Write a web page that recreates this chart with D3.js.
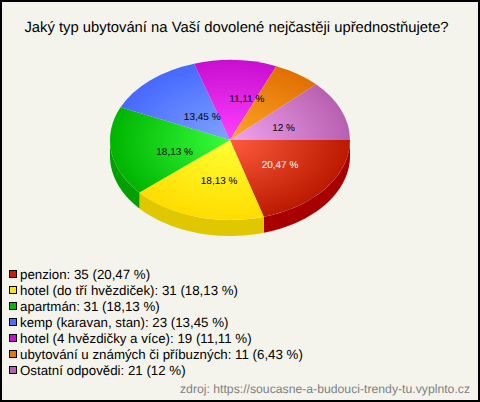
<!DOCTYPE html>
<html><head><meta charset="utf-8">
<script src="https://cdn.jsdelivr.net/npm/d3@7/dist/d3.min.js"></script>
<style>html,body{margin:0;padding:0;background:#f4f4ec}svg{display:block}text{font-family:"Liberation Sans",Arial,sans-serif;text-rendering:geometricPrecision}</style>
</head><body><svg id="c" width="480" height="402"></svg>
<script>
const titleText = "Jaký typ ubytování na Vaší dovolené nejčastěji upřednostňujete?";
const sourceText = "zdroj: https://soucasne-a-budouci-trendy-tu.vyplnto.cz";
const categories = ["penzion","hotel (do tří hvězdiček)","apartmán","kemp (karavan, stan)","hotel (4 hvězdičky a více)","ubytování u známých či příbuzných","Ostatní odpovědi"];
const counts = [35,31,31,23,19,11,21];
const percents = ["20,47 %","18,13 %","18,13 %","13,45 %","11,11 %","6,43 %","12 %"];
const showLabel = [true,true,true,true,true,false,true];
const innerColors = ["#ff5c3e","#ffff33","#36ff3c","#7fa4ff","#ff40ff","#ffa52a","#f0a4f0"];
const outerColors = ["#bb1a00","#ffdc00","#00b400","#4668ff","#c80ed0","#e07000","#b860b0"];
const sideColors = ["#a80000","#e0c800","#00a000","#3850c8","#a000a8","#b05800","#904890"];
const legendColors = ["#c81e00","#ffe600","#00b900","#4a6eff","#c810d0","#e57a00","#b860b0"];
const labelTextColors = ["#fff","#000","#000","#000","#000","#000","#000"];
const labelNudge = [[2,0],[6,2],[4,5],[12,6],[14,-2],[0,0],[-2,2]];

const W=480,H=402,cx=230,cy=140,rx=120,ry=80,depth=16;
const svg=d3.select("#c");
svg.append("rect").attr("x",1).attr("y",1).attr("width",W-2).attr("height",H-2).attr("fill","#f4f4ec").attr("stroke","#000").attr("stroke-width",2);
svg.append("text").attr("x",236.5).attr("y",32).attr("text-anchor","middle").attr("font-size",14.8).attr("fill","#000").text(titleText);

const pie=d3.pie().value(d=>d).sort(null).startAngle(Math.PI/2).endAngle(Math.PI/2+2*Math.PI);
const arcs=pie(counts);
const sx=d3.scaleLinear().domain([-1,1]).range([cx-rx,cx+rx]);
const sy=d3.scaleLinear().domain([-1,1]).range([cy-ry,cy+ry]);
const px=a=>sx(Math.sin(a)), py=a=>sy(-Math.cos(a));

const defs=svg.append("defs");
arcs.forEach((d,i)=>{
  const g=defs.append("radialGradient").attr("id","g"+i).attr("gradientUnits","userSpaceOnUse")
    .attr("cx",0).attr("cy",0).attr("r",1);
  g.append("stop").attr("offset","0").attr("stop-color",innerColors[i]);
  g.append("stop").attr("offset","1").attr("stop-color",outerColors[i]);
});

const sideG=svg.append("g");
arcs.forEach((d,i)=>{
  const a0=Math.max(d.startAngle,Math.PI/2), a1=Math.min(d.endAngle,3*Math.PI/2);
  if(a1<=a0) return;
  const pts=d3.range(0,41).map(k=>a0+(a1-a0)*k/40);
  const top=pts.map(a=>[px(a),py(a)]);
  const bot=pts.slice().reverse().map(a=>[px(a),py(a)+depth]);
  sideG.append("path").attr("d",d3.line()(top.concat(bot))+"Z").attr("fill",sideColors[i]);
});

const arc=d3.arc().innerRadius(0).outerRadius(1);
const topG=svg.append("g").attr("transform",`translate(${cx},${cy}) scale(${rx},${ry})`);
topG.selectAll("path").data(arcs).join("path").attr("d",arc).attr("fill",(d,i)=>`url(#g${i})`);

const labelR=0.5;
arcs.forEach((d,i)=>{
  if(!showLabel[i]) return;
  const m=(d.startAngle+d.endAngle)/2;
  svg.append("text").attr("x",cx+labelR*rx*Math.sin(m)+labelNudge[i][0]).attr("y",cy-labelR*ry*Math.cos(m)+labelNudge[i][1]+4)
    .attr("text-anchor","middle").attr("font-size",10).attr("fill",labelTextColors[i]).text(percents[i]);
});

const ly=d3.scalePoint().domain(d3.range(categories.length)).range([274,370]);
const leg=svg.append("g");
categories.forEach((c,i)=>{
  leg.append("rect").attr("x",9.5).attr("y",ly(i)-3.5).attr("width",7).attr("height",7).attr("fill",legendColors[i]).attr("stroke","#000").attr("stroke-width",1);
  leg.append("text").attr("x",20).attr("y",ly(i)+5).attr("font-size",13.3).attr("fill","#000").text(`${c}: ${counts[i]} (${percents[i]})`);
});
svg.append("text").attr("x",470).attr("y",393).attr("text-anchor","end").attr("font-size",12.22).attr("fill","#808080").text(sourceText);
</script></body></html>
